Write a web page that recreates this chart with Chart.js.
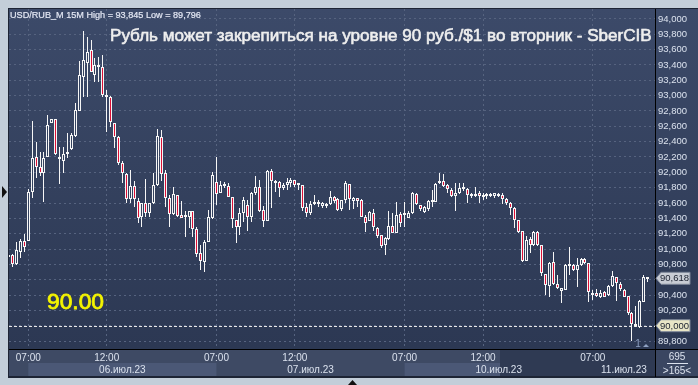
<!DOCTYPE html>
<html>
<head>
<meta charset="utf-8">
<script src="https://cdn.jsdelivr.net/npm/chart.js@4.4.0/dist/chart.umd.min.js"></script>
<style>
  html, body { margin: 0; padding: 0; background: #c3ced9; }
  #wrap { width: 698px; height: 385px; }
</style>
</head>
<body>
<div id="wrap"><canvas id="candles" width="698" height="385"></canvas></div>
<script>
/* =========================
   DATA (USD/RUB_M, 15M)
========================= */

const opens = [
  90905, 90922, 90801, 90965, 91105, 91109, 91748, 92197, 92066, 91996,
  92197, 92640, 92696, 92197, 92152, 92236, 92305, 92478, 92804, 93248,
  93422, 93596, 93270, 93374, 93378, 93000, 92987, 92640, 92465, 92126,
  91979, 91656, 91822, 91630, 91413, 91597, 91474, 91597, 91831, 92457,
  91988, 91666, 91453, 91705, 91440, 91413, 91413, 91496, 91258, 90943,
  90835, 91096, 91401, 91874, 91735, 91818, 91822, 91672, 91379, 91291,
  91474, 91575, 91422, 91727, 91805, 91509, 91370, 92022, 91865, 91870,
  91792, 91835, 91865, 91901, 91835, 91835, 91552, 91474, 91584, 91588,
  91562, 91562, 91584, 91675, 91649, 91519, 91640, 91844, 91630, 91662,
  91640, 91413, 91370, 91474, 91270, 91179, 91052, 91127, 91301, 91213,
  91457, 91440, 91408, 91466, 91714, 91575, 91487, 91519, 91640, 91617,
  91857, 91888, 91835, 91770, 91696, 91727, 91800, 91779, 91718, 91696,
  91727, 91709, 91692, 91718, 91692, 91718, 91705, 91649, 91604, 91532,
  91379, 91235, 90844, 91127, 91052, 91226, 91052, 90675, 90522, 90827,
  90540, 90457, 90466, 90779, 90792, 90727, 90792, 90870, 90814, 90401,
  90423, 90379, 90436, 90401, 90518, 90632, 90545, 90466, 90388, 90170,
  89998, 89988, 90314, 90615
];

const highs = [
  90935, 90935, 91088, 91127, 91192, 91783, 92670, 92392, 92270, 92262,
  92748, 92700, 92700, 92335, 92335, 92510, 92510, 92901, 93452, 93845,
  93770, 93726, 93488, 93508, 93531, 93074, 92990, 92645, 92470, 92148,
  91985, 92031, 91888, 91662, 91600, 91914, 91600, 91988, 92566, 92553,
  92031, 91705, 91803, 91710, 91627, 91496, 91500, 91500, 91291, 91052,
  91118, 91509, 92001, 92200, 91892, 91874, 91861, 91675, 91380, 91532,
  91675, 91640, 91740, 91953, 91901, 91562, 92031, 92040, 91895, 91888,
  91857, 91923, 91923, 91905, 91865, 91840, 91597, 91627, 91705, 91640,
  91617, 91597, 91757, 91692, 91662, 91645, 91888, 91850, 91683, 91670,
  91649, 91444, 91500, 91519, 91284, 91185, 91161, 91496, 91466, 91617,
  91487, 91617, 91500, 91748, 91727, 91580, 91562, 91640, 91770, 91865,
  91988, 91979, 91844, 91792, 91857, 91857, 91857, 91792, 91727, 91805,
  91761, 91735, 91727, 91731, 91735, 91727, 91727, 91662, 91617, 91552,
  91380, 91240, 91170, 91153, 91239, 91239, 91055, 90680, 90825, 90965,
  90662, 90490, 90805, 91023, 90805, 90879, 90879, 90887, 90822, 90466,
  90475, 90466, 90449, 90531, 90714, 90640, 90574, 90479, 90390, 90183,
  90258, 90336, 90662, 90640
];

const lows = [
  90885, 90770, 90792, 90887, 90965, 91105, 91670, 91931, 91953, 91617,
  92197, 92640, 92230, 91844, 91996, 92192, 92292, 92465, 92800, 92987,
  92987, 93309, 93182, 93182, 92987, 92530, 92596, 92318, 92096, 91857,
  91597, 91597, 91545, 91345, 91291, 91413, 91413, 91590, 91825, 91890,
  91552, 91291, 91450, 91422, 91400, 91161, 91270, 91161, 90900, 90727,
  90705, 91090, 91395, 91575, 91731, 91796, 91679, 91275, 91074, 91183,
  91357, 91239, 91357, 91705, 91487, 91291, 91365, 91532, 91748, 91683,
  91770, 91770, 91813, 91813, 91770, 91500, 91422, 91444, 91575, 91552,
  91532, 91540, 91575, 91597, 91496, 91496, 91597, 91509, 91519, 91552,
  91415, 91226, 91365, 91239, 91140, 91013, 90922, 91120, 91205, 91210,
  91284, 91284, 91401, 91460, 91580, 91500, 91474, 91500, 91552, 91610,
  91844, 91809, 91727, 91675, 91500, 91718, 91761, 91604, 91662, 91683,
  91604, 91640, 91649, 91679, 91662, 91675, 91584, 91575, 91444, 91270,
  91213, 90831, 90840, 90952, 91045, 91045, 90649, 90401, 90379, 90535,
  90480, 90301, 90460, 90662, 90714, 90501, 90779, 90805, 90314, 90336,
  90370, 90362, 90370, 90388, 90510, 90327, 90457, 90370, 90140, 89796,
  89988, 89975, 90310, 90574
];

const closes = [
  90900, 90801, 90987, 91105, 91030, 91748, 92184, 92074, 91996, 92184,
  92618, 92696, 92236, 92170, 92236, 92262, 92487, 92813, 93270, 93465,
  93574, 93313, 93400, 93400, 93009, 92987, 92653, 92457, 92126, 91988,
  91656, 91822, 91656, 91410, 91597, 91474, 91597, 91831, 92474, 91979,
  91670, 91453, 91714, 91435, 91401, 91444, 91496, 91258, 90931, 90848,
  91096, 91422, 91966, 91714, 91835, 91844, 91683, 91388, 91284, 91474,
  91640, 91422, 91727, 91805, 91500, 91370, 92022, 91892, 91892, 91792,
  91835, 91878, 91901, 91835, 91861, 91532, 91474, 91584, 91597, 91604,
  91604, 91584, 91675, 91630, 91509, 91640, 91857, 91649, 91662, 91630,
  91422, 91344, 91483, 91284, 91170, 91043, 91148, 91301, 91213, 91444,
  91336, 91457, 91474, 91727, 91588, 91519, 91545, 91630, 91610, 91848,
  91878, 91822, 91779, 91692, 91727, 91800, 91779, 91705, 91696, 91718,
  91692, 91683, 91718, 91692, 91727, 91692, 91649, 91604, 91532, 91379,
  91226, 90844, 91118, 91052, 91226, 91052, 90684, 90531, 90822, 90540,
  90488, 90488, 90792, 90805, 90727, 90792, 90870, 90822, 90444, 90414,
  90392, 90431, 90379, 90518, 90653, 90553, 90475, 90379, 90170, 90023,
  90005, 90323, 90640, 90618
];

// bar index of each time label (07:00 / 12:00)
const timeTickIdx = [5, 25, 53, 73, 101, 121, 149];

const timeTickText = [
  "07:00", "12:00", "07:00", "12:00", "07:00", "12:00", "07:00"
];

// first bar (07:00) of each session
const dayStartIdx = [5, 53, 101, 149];

const dayLabels = [
  "06.июл.23", "07.июл.23", "10.июл.23", "11.июл.23"
];

const priceTicks = [
  94000, 93800, 93600, 93400, 93200, 93000, 92800, 92600, 92400,
  92200, 92000, 91800, 91600, 91400, 91200, 91000, 90800, 90600,
  90400, 90200, 90000, 89800
];

const lastPrice = 90618;
const levelPrice = 90000;

const headerText = "USD/RUB_M 15M High = 93,845 Low = 89,796";
const titleText =
  "Рубль может закрепиться на уровне 90 руб./$1 во вторник - SberCIB";

/* =========================
   STYLE
========================= */

const FONT = '"Liberation Sans", Arial, sans-serif';
const FRAME = "#c3ced9";
const UP_FILL = "#34425f";
const DOWN_FILL = "#dc0f36";
const CANDLE_LINE = "#f6f6f6";
const GRID = "#56637f";
const AXIS_TEXT = "#dbe2ee";

function fitFont(ctx, text, weight, width) {
  ctx.font = `${weight} 20px ${FONT}`;
  return 20 * width / ctx.measureText(text).width;
}

// fill + hairline stroke, to get the heavier look of the terminal text
function heavyText(ctx, text, x, y, color, stroke) {
  ctx.fillStyle = color;
  ctx.strokeStyle = color;
  ctx.lineWidth = stroke;
  ctx.fillText(text, x, y);
  ctx.strokeText(text, x, y);
}

/* =========================
   DECORATION PLUGIN
========================= */

const terminalPlugin = {

  id: "terminal",

  beforeDraw(chart) {

    const { ctx, chartArea: a, scales } = chart;
    const xs = scales.x;

    ctx.save();

    ctx.fillStyle = FRAME;
    ctx.fillRect(0, 0, chart.width, chart.height);

    // panel outline
    ctx.fillStyle = "#1d2434";
    ctx.fillRect(8, 8, chart.width - 8, 370);

    // plot + price panel background
    const g = ctx.createLinearGradient(0, a.top, 0, a.bottom);
    g.addColorStop(0, "#3c4a69");
    g.addColorStop(1, "#2c3853");
    ctx.fillStyle = g;
    ctx.fillRect(a.left, a.top, chart.width - a.left, a.bottom - a.top);

    // time axis panel
    ctx.fillStyle = "#3e4a64";
    ctx.fillRect(a.left, a.bottom, a.right - a.left, 27);

    // session bands in the date row
    dayStartIdx.forEach((start, k) => {
      if (k % 2 !== 0) return;
      const x0 = xs.getPixelForValue(start);
      const x1 = k + 1 < dayStartIdx.length
        ? xs.getPixelForValue(dayStartIdx[k + 1])
        : a.right;
      ctx.fillStyle = "#4b5876";
      ctx.fillRect(x0, a.bottom + 14, x1 - x0, 13);
    });

    // darker right part of the time axis
    ctx.fillStyle = "#2f3a53";
    ctx.fillRect(500, a.bottom, a.right - 500, 27);

    // corner box
    ctx.fillStyle = "#3a4661";
    ctx.fillRect(a.right, a.bottom, chart.width - a.right, 27);

    ctx.restore();

  },

  beforeDatasetsDraw(chart) {

    const { ctx, chartArea: a, scales } = chart;
    const y = Math.round(scales.y.getPixelForValue(levelPrice)) + 0.5;

    // snap candle elements to whole pixels so they stay crisp
    chart.data.datasets.forEach((ds, di) => {
      chart.getDatasetMeta(di).data.forEach(el => {
        el.x = Math.floor(el.x) + 0.5;
        el.y = Math.round(el.y);
        el.base = Math.round(el.base);
      });
    });

    ctx.save();
    ctx.strokeStyle = "#e6e6e6";
    ctx.lineWidth = 1;
    ctx.setLineDash([3, 2]);
    ctx.beginPath();
    ctx.moveTo(a.left, y);
    ctx.lineTo(a.right, y);
    ctx.stroke();
    ctx.restore();

  },

  afterDraw(chart) {

    const { ctx, chartArea: a, scales } = chart;
    const xs = scales.x;
    const ys = scales.y;

    ctx.save();

    // panel separators
    ctx.fillStyle = "#000000";
    ctx.fillRect(a.right, a.top, 1, 377 - a.top);
    ctx.fillRect(a.left, a.bottom, chart.width - a.left, 1);

    // header line
    ctx.textBaseline = "middle";
    ctx.textAlign = "left";
    ctx.font = `${fitFont(ctx, headerText, "normal", 191)}px ${FONT}`;
    heavyText(ctx, headerText, 10, 15.5, "#e4e8f4", 0.2);

    // title
    ctx.textBaseline = "alphabetic";
    ctx.font = `${fitFont(ctx, titleText, "normal", 542)}px ${FONT}`;
    heavyText(ctx, titleText, 110, 40.7, "#eeeeee", 0.6);

    // level text
    ctx.font = `${fitFont(ctx, "90.00", "normal", 57)}px ${FONT}`;
    heavyText(ctx, "90.00", 47, 309, "#f4f400", 0.8);

    // date row
    ctx.fillStyle = AXIS_TEXT;
    ctx.textAlign = "center";
    ctx.textBaseline = "middle";
    ctx.font = `10px ${FONT}`;
    dayStartIdx.forEach((start, k) => {
      const x0 = xs.getPixelForValue(start);
      const x1 = k + 1 < dayStartIdx.length
        ? xs.getPixelForValue(dayStartIdx[k + 1])
        : a.right;
      ctx.fillText(dayLabels[k], (x0 + x1) / 2, a.bottom + 21);
    });

    // price tags
    const drawTag = (value, fill) => {
      const y = ys.getPixelForValue(value);
      ctx.beginPath();
      ctx.moveTo(a.right + 1, y);
      ctx.lineTo(a.right + 6, y - 6);
      ctx.lineTo(a.right + 35, y - 6);
      ctx.lineTo(a.right + 35, y + 6);
      ctx.lineTo(a.right + 6, y + 6);
      ctx.closePath();
      ctx.fillStyle = fill;
      ctx.fill();
      ctx.strokeStyle = "#7c8598";
      ctx.lineWidth = 1;
      ctx.stroke();
      ctx.fillStyle = "#1b2130";
      ctx.textAlign = "left";
      ctx.font = `9.5px ${FONT}`;
      ctx.fillText(value.toLocaleString("en-US"), a.right + 5, y + 0.5);
    };
    drawTag(lastPrice, "#c8ccd4");
    drawTag(levelPrice, "#e8e5c6");

    // corner box
    ctx.fillStyle = AXIS_TEXT;
    ctx.textAlign = "center";
    ctx.font = `10px ${FONT}`;
    ctx.fillText("695", 677, a.bottom + 8);
    ctx.fillText(">165<", 677, a.bottom + 22);
    ctx.fillRect(667, a.bottom + 14, 21, 1);

    // bar counter
    ctx.fillStyle = "#8fa1c2";
    ctx.fillText("1", 638, a.bottom - 5);
    ctx.beginPath();
    ctx.moveTo(643, a.bottom - 2);
    ctx.lineTo(646, a.bottom - 5);
    ctx.lineTo(649, a.bottom - 2);
    ctx.fill();

    // scroll markers
    ctx.fillStyle = "#111111";
    ctx.beginPath();
    ctx.moveTo(2, 186);
    ctx.lineTo(7, 192);
    ctx.lineTo(2, 198);
    ctx.fill();
    ctx.beginPath();
    ctx.moveTo(348, 385);
    ctx.lineTo(352.5, 380);
    ctx.lineTo(357, 385);
    ctx.fill();

    ctx.restore();

  }

};

/* =========================
   CANDLES
========================= */

const bodies = opens.map((o, i) => ({ x: i, y: [o, closes[i]] }));
const wicks = opens.map((o, i) => ({ x: i, y: [lows[i], highs[i]] }));
const bodyFill = opens.map((o, i) => closes[i] < o ? DOWN_FILL : UP_FILL);

const chart = new Chart(document.getElementById("candles"), {

  type: "bar",

  data: {
    datasets: [
      {
        label: "body",
        data: bodies,
        backgroundColor: bodyFill,
        borderColor: CANDLE_LINE,
        borderWidth: 1,
        borderSkipped: false,
        barThickness: 3,
        minBarLength: 2,
        inflateAmount: 0,
        grouped: false,
        order: 0
      },
      {
        label: "wick",
        data: wicks,
        backgroundColor: CANDLE_LINE,
        borderWidth: 0,
        barThickness: 1,
        inflateAmount: 0,
        grouped: false,
        order: 1
      }
    ]
  },

  options: {

    responsive: false,
    animation: false,
    events: [],

    layout: {
      padding: { left: 9, top: 9, right: 0, bottom: 0 }
    },

    plugins: {
      legend: { display: false },
      tooltip: { enabled: false }
    },

    scales: {

      x: {
        type: "linear",
        min: 0.08,
        max: 164.87,
        offset: false,
        afterBuildTicks: s => {
          s.ticks = timeTickIdx.map(v => ({ value: v }));
        },
        afterFit: s => { s.height = 36; },
        ticks: {
          autoSkip: false,
          maxRotation: 0,
          padding: 3,
          color: AXIS_TEXT,
          font: { family: FONT, size: 10 },
          callback: (v, i) => timeTickText[i]
        },
        grid: {
          offset: false,
          color: GRID,
          drawTicks: false
        },
        border: { display: false, dash: [2, 3] }
      },

      y: {
        position: "right",
        min: 89696,
        max: 94130,
        afterBuildTicks: s => {
          s.ticks = priceTicks.map(v => ({ value: v }));
        },
        afterFit: s => { s.width = 43; },
        ticks: {
          padding: 3,
          color: AXIS_TEXT,
          font: { family: FONT, size: 9.5 },
          callback: v => v.toLocaleString("en-US")
        },
        grid: {
          color: GRID,
          drawTicks: false
        },
        border: { display: false, dash: [2, 3] }
      }

    }

  },

  plugins: [terminalPlugin]

});
</script>
</body>
</html>
